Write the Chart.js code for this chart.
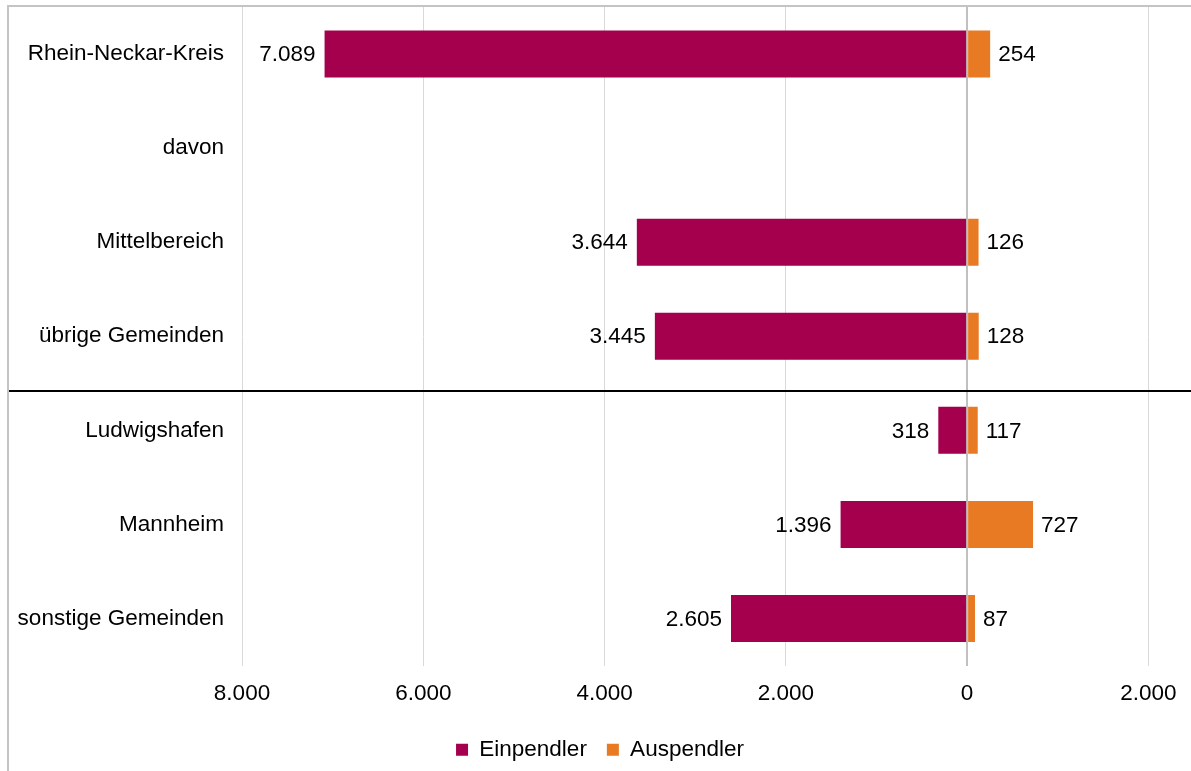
<!DOCTYPE html>
<html>
<head>
<meta charset="utf-8">
<script src="https://cdn.jsdelivr.net/npm/chart.js@4/dist/chart.umd.min.js"></script>
<style>
    html, body { margin: 0; padding: 0; background: #fff; }
    #frame {
        position: absolute;
        left: 7px;
        top: 5px;
        width: 1182px;
        height: 764px;
        border-top: 2px solid #c4c4c4;
        border-left: 2px solid #c4c4c4;
    }
    #chart { display: block; }
</style>
</head>
<body>
<div id="frame">
    <canvas id="chart" width="1182" height="764"></canvas>
</div>
<script>
    const categories = ['Rhein-Neckar-Kreis', 'davon', 'Mittelbereich', 'übrige Gemeinden', 'Ludwigshafen', 'Mannheim', 'sonstige Gemeinden'];
    const einpendler = [7089, null, 3644, 3445, 318, 1396, 2605];
    const auspendler = [254, null, 126, 128, 117, 727, 87];
    const xTicks = [-8000, -6000, -4000, -2000, 0, 2000];

    const fontFamily = '"Liberation Sans", Arial, sans-serif';
    const fontSize = 22.5;

    // 7.089 statt 7,089
    function fmt(v) {
        return Math.abs(v).toString().replace(/\B(?=(\d{3})+(?!\d))/g, '.');
    }

    const valueLabels = {
        id: 'valueLabels',
        afterDatasetsDraw(chart) {
            const ctx = chart.ctx;
            ctx.save();
            ctx.font = fontSize + 'px ' + fontFamily;
            ctx.fillStyle = '#000';
            ctx.textBaseline = 'middle';
            chart.data.datasets.forEach((ds, i) => {
                const meta = chart.getDatasetMeta(i);
                meta.data.forEach((bar, j) => {
                    const v = ds.data[j];
                    if (v === null) return;
                    if (v < 0) {
                        ctx.textAlign = 'right';
                        ctx.fillText(fmt(v), bar.x - 9, bar.y + 1);
                    } else {
                        ctx.textAlign = 'left';
                        ctx.fillText(fmt(v), bar.x + 8, bar.y + 1);
                    }
                });
            });
            ctx.restore();
        }
    };

    // schwarze Trennlinie zwischen Kreis und den Städten
    const separator = {
        id: 'separator',
        afterDraw(chart) {
            const y3 = chart.scales.y.getPixelForValue(3);
            const y4 = chart.scales.y.getPixelForValue(4);
            const y = Math.round(y3 + (y4 - y3) * 0.58);
            const ctx = chart.ctx;
            ctx.save();
            ctx.strokeStyle = '#000';
            ctx.lineWidth = 2;
            ctx.beginPath();
            ctx.moveTo(0, y);
            ctx.lineTo(chart.width, y);
            ctx.stroke();
            ctx.restore();
        }
    };

    const chart = new Chart(document.getElementById('chart'), {
        type: 'bar',
        data: {
            labels: categories,
            datasets: [{
                label: 'Einpendler',
                data: einpendler.map(v => v === null ? null : -v),
                backgroundColor: '#a5004e',
                barPercentage: 0.5,
                categoryPercentage: 1
            }, {
                label: 'Auspendler',
                data: auspendler,
                backgroundColor: '#e87a23',
                barPercentage: 0.5,
                categoryPercentage: 1
            }]
        },
        options: {
            indexAxis: 'y',
            responsive: false,
            animation: false,
            layout: { padding: 0 },
            scales: {
                x: {
                    stacked: true,
                    min: -8000,
                    max: 2470,
                    afterBuildTicks: (scale) => {
                        scale.ticks = xTicks.map(v => ({ value: v }));
                    },
                    afterFit: (scale) => {
                        scale.height = 53;
                        scale.paddingLeft = 0;
                        scale.paddingRight = 0;
                    },
                    border: { display: false },
                    grid: {
                        drawTicks: false,
                        color: (c) => c.tick && c.tick.value === 0 ? '#c0c0c0' : '#d9d9d9',
                        lineWidth: (c) => c.tick && c.tick.value === 0 ? 2 : 1
                    },
                    ticks: {
                        padding: 15,
                        color: '#000',
                        font: { family: fontFamily, size: fontSize },
                        callback: (v) => fmt(v)
                    }
                },
                y: {
                    stacked: true,
                    afterFit: (scale) => {
                        scale.width = 233;
                        scale.paddingTop = 0;
                        scale.paddingBottom = 0;
                    },
                    border: { display: false },
                    grid: { display: false, drawTicks: false },
                    ticks: {
                        padding: 18,
                        color: '#000',
                        font: { family: fontFamily, size: fontSize }
                    }
                }
            },
            plugins: {
                legend: {
                    position: 'bottom',
                    labels: {
                        boxWidth: 12,
                        boxHeight: 12,
                        padding: 20,
                        color: '#000',
                        font: { family: fontFamily, size: fontSize }
                    }
                },
                tooltip: { enabled: false }
            }
        },
        plugins: [valueLabels, separator]
    });
</script>
</body>
</html>
